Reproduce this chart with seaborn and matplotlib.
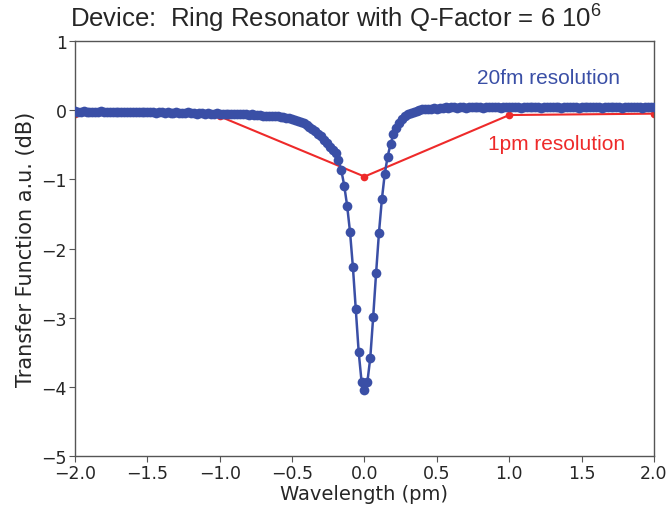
import numpy as np
import pandas as pd
import matplotlib
matplotlib.use("Agg")
import matplotlib.pyplot as plt
import seaborn as sns

# 20 fm sweep: wavelength offset grid (pm) and measured transfer (dB)
STEP_PM = 0.02
fine_wavelength = np.round(np.arange(-100, 101) * STEP_PM, 2)
fine_transfer = [
    # -2.00 .. -1.50
    -0.01, -0.02, -0.02, -0.01, -0.02, -0.02, -0.03, -0.02, -0.02, -0.01,
    -0.02, -0.02, -0.03, -0.02, -0.02, -0.03, -0.02, -0.02, -0.03, -0.03,
    -0.02, -0.03, -0.03, -0.02, -0.03, -0.03,
    # -1.48 .. -1.00
    -0.03, -0.03, -0.04, -0.03, -0.03, -0.04, -0.03, -0.04, -0.04, -0.03,
    -0.04, -0.04, -0.04, -0.03, -0.04, -0.04, -0.05, -0.04, -0.04, -0.05,
    -0.04, -0.05, -0.05, -0.04, -0.05,
    # -0.98 .. -0.62
    -0.05, -0.05, -0.05, -0.06, -0.05, -0.06, -0.06, -0.06, -0.06, -0.07,
    -0.06, -0.07, -0.07, -0.07, -0.08, -0.08, -0.08, -0.09, -0.09,
    # -0.60 .. -0.52
    -0.09, -0.10, -0.10, -0.11, -0.12,
    # -0.50 .. -0.20
    -0.13, -0.14, -0.16, -0.17, -0.19, -0.21, -0.24, -0.27, -0.30, -0.34,
    -0.38, -0.43, -0.48, -0.53, -0.57, -0.62,
    # -0.18 .. 0.20 (resonance)
    -0.72, -0.87, -1.09, -1.38, -1.76, -2.27, -2.88, -3.50, -3.93, -4.05,
    -3.93, -3.58, -2.99, -2.36, -1.77, -1.29, -0.92, -0.67, -0.49, -0.35,
    # 0.22 .. 0.60
    -0.26, -0.19, -0.13, -0.09, -0.06, -0.04, -0.02, -0.01, 0.00, 0.01,
    0.01, 0.02, 0.02, 0.03, 0.02, 0.03, 0.03, 0.04, 0.03, 0.04,
    # 0.62 .. 2.00
    0.04, 0.03, 0.04, 0.04, 0.03, 0.04, 0.04, 0.05, 0.04, 0.04,
    0.03, 0.04, 0.04, 0.05, 0.04, 0.04, 0.03, 0.04, 0.04, 0.04,
    0.05, 0.04, 0.04, 0.03, 0.04, 0.04, 0.04, 0.05, 0.04, 0.04,
    0.03, 0.04, 0.04, 0.04, 0.05, 0.04, 0.04, 0.03, 0.04, 0.04,
    0.04, 0.05, 0.04, 0.03, 0.04, 0.04, 0.04, 0.04, 0.05, 0.04,
    0.04, 0.03, 0.04, 0.04, 0.04, 0.05, 0.04, 0.04, 0.03, 0.04,
    0.04, 0.04, 0.04, 0.05, 0.04, 0.03, 0.04, 0.04, 0.04, 0.04,
]
assert len(fine_transfer) == len(fine_wavelength)

# 1 pm sweep
coarse_wavelength = [-2.0, -1.0, 0.0, 1.0, 2.0]
coarse_transfer = [-0.05, -0.09, -0.96, -0.07, -0.05]

x_ticks = [-2.0, -1.5, -1.0, -0.5, 0.0, 0.5, 1.0, 1.5, 2.0]
y_ticks = [1, 0, -1, -2, -3, -4, -5]

BLUE = "#3A4FA6"
RED = "#EE2A2A"

sns.set_style("ticks")
plt.rcParams["font.family"] = ["DejaVu Sans"]
plt.rcParams["mathtext.fontset"] = "custom"
plt.rcParams["mathtext.rm"] = "Liberation Sans"
plt.rcParams["mathtext.it"] = "Liberation Sans:italic"
plt.rcParams["mathtext.bf"] = "Liberation Sans:bold"

fig = plt.figure(figsize=(6.72, 5.10), dpi=100)
ax = fig.add_axes([0.1116, 0.1039, 0.8616, 0.8137])

fine = pd.DataFrame({"wl": fine_wavelength, "t": fine_transfer})
coarse = pd.DataFrame({"wl": coarse_wavelength, "t": coarse_transfer})

sns.lineplot(data=coarse, x="wl", y="t", ax=ax, color=RED, linewidth=1.5,
             marker="o", markersize=5.5, markeredgewidth=0, zorder=2)
sns.lineplot(data=fine, x="wl", y="t", ax=ax, color=BLUE, linewidth=1.8,
             marker="o", markersize=7, markeredgewidth=0, zorder=3)

ax.set_xlim(-2.0, 2.0)
ax.set_ylim(-5, 1)
ax.set_xticks(x_ticks)
ax.set_yticks(y_ticks)
ax.tick_params(labelsize=12.5, length=4, color="#555555", pad=2)
for s in ax.spines.values():
    s.set_color("#555555")
    s.set_linewidth(1.0)

ax.set_xlabel("Wavelength (pm)", fontsize=14, labelpad=1)
ax.set_ylabel("Transfer Function a.u. (dB)", fontsize=15, labelpad=4)

fig.text(0.5, 0.963, "Device:  Ring Resonator with Q-Factor = 6 10$^{\\mathrm{6}}$",
         ha="center", va="center", fontsize=18.5, family="Liberation Sans")
ax.text(0.817, 0.913, "20fm resolution", transform=ax.transAxes, ha="center",
        va="center", fontsize=15, color=BLUE, family="Liberation Sans")
ax.text(0.832, 0.752, "1pm resolution", transform=ax.transAxes, ha="center",
        va="center", fontsize=15, color=RED, family="Liberation Sans")

fig.savefig("out.png", dpi=100)
